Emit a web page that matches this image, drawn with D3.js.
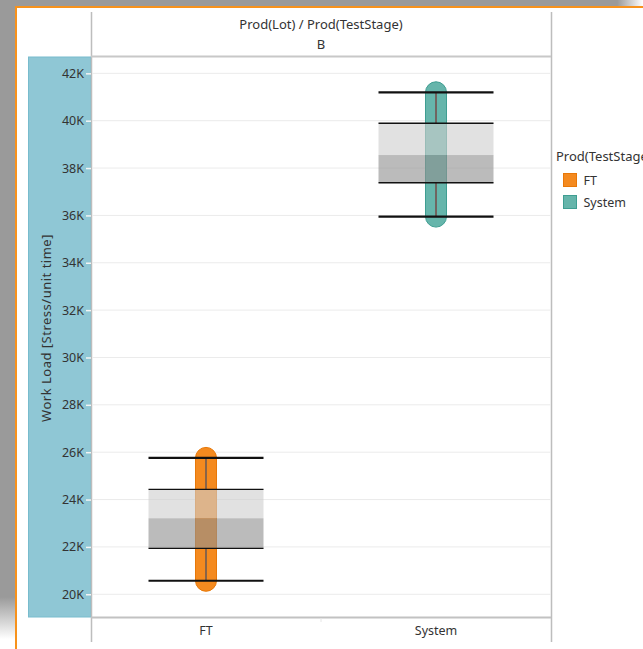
<!DOCTYPE html>
<html>
<head>
<meta charset="utf-8">
<script src="https://cdn.jsdelivr.net/npm/d3@7"></script>
<style>
  body { margin: 0; background: #fff; }
  text { font-family: "Noto Sans", "Open Sans", sans-serif; fill: #333; }
</style>
</head>
<body>
<div id="chart"></div>
<script>
// box plot values per test stage
const stages = ["FT", "System"];
const whiskLow = [20570, 35950];
const q1 = [21940, 37380];
const median = [23210, 38550];
const q3 = [24430, 39890];
const whiskHigh = [25760, 41200];

const yTicks = [20000, 22000, 24000, 26000, 28000, 30000, 32000, 34000, 36000, 38000, 40000, 42000];

const stageFill = ["#f48a1f", "#66b5ab"];
const stageStroke = ["#e87808", "#3f9e92"];
const stemColor = ["#1d3f75", "#7a1414"];

const width = 643, height = 649;
const plotLeft = 91, plotRight = 551, plotTop = 57, plotBottom = 617;

let svg = d3.select("#chart").append("svg")
  .attr("width", width).attr("height", height);

// window frame: grey shadow + orange border
let defs = svg.append("defs");
let gTop = defs.append("linearGradient").attr("id", "fadeRight");
gTop.append("stop").attr("offset", "0.96").attr("stop-color", "#9a9a9a");
gTop.append("stop").attr("offset", "1").attr("stop-color", "#ffffff");
let gLeft = defs.append("linearGradient").attr("id", "fadeDown")
  .attr("x1", 0).attr("x2", 0).attr("y1", 0).attr("y2", 1);
gLeft.append("stop").attr("offset", "0.92").attr("stop-color", "#9a9a9a");
gLeft.append("stop").attr("offset", "0.985").attr("stop-color", "#ffffff");

svg.append("rect").attr("x", 0).attr("y", 0).attr("width", width).attr("height", 7)
  .attr("fill", "url(#fadeRight)");
svg.append("rect").attr("x", 0).attr("y", 0).attr("width", 15).attr("height", height)
  .attr("fill", "url(#fadeDown)");
svg.append("line").attr("x1", 15).attr("x2", width).attr("y1", 7).attr("y2", 7)
  .attr("stroke", "#f7921c").attr("stroke-width", 2);
svg.append("line").attr("x1", 16).attr("x2", 16).attr("y1", 6).attr("y2", height)
  .attr("stroke", "#f7921c").attr("stroke-width", 2);

// scales
let x = d3.scaleBand().domain(stages).range([plotLeft, plotRight]);
let y = d3.scaleLinear().domain([19040, 42690]).range([plotBottom, plotTop]);

// blue y-axis band
svg.append("rect")
  .attr("x", 28.5).attr("y", plotTop).attr("width", plotLeft - 28.5).attr("height", plotBottom - plotTop)
  .attr("fill", "#8fc7d5").attr("stroke", "#78bccd");

// panel lines
svg.append("g").selectAll("line")
  .data([plotLeft, plotRight])
  .join("line")
  .attr("x1", d => d + 0.5).attr("x2", d => d + 0.5)
  .attr("y1", 12).attr("y2", 642)
  .attr("stroke", "#bdbdbd").attr("stroke-width", 1.5);
svg.append("line").attr("x1", plotLeft).attr("x2", plotRight).attr("y1", 56.5).attr("y2", 56.5)
  .attr("stroke", "#c8c8c8").attr("stroke-width", 2);
svg.append("line").attr("x1", plotLeft).attr("x2", plotRight).attr("y1", 617.5).attr("y2", 617.5)
  .attr("stroke", "#c2c2c2").attr("stroke-width", 2);
svg.append("line").attr("x1", x("System")).attr("x2", x("System")).attr("y1", 618).attr("y2", 622)
  .attr("stroke", "#e6e6e6");

// header
svg.append("text").attr("x", (plotLeft + plotRight) / 2).attr("y", 29)
  .attr("text-anchor", "middle").attr("font-size", 13)
  .text("Prod(Lot) / Prod(TestStage)");
svg.append("text").attr("x", (plotLeft + plotRight) / 2).attr("y", 49)
  .attr("text-anchor", "middle").attr("font-size", 13)
  .text("B");

// gridlines
svg.append("g").selectAll("line")
  .data(yTicks)
  .join("line")
  .attr("x1", plotLeft + 1).attr("x2", plotRight)
  .attr("y1", d => y(d)).attr("y2", d => y(d))
  .attr("stroke", "#ebebeb");

// y axis
let yAxis = d3.axisLeft(y).tickValues(yTicks).tickSize(5).tickPadding(2)
  .tickFormat(d => d / 1000 + "K");
let gy = svg.append("g").attr("transform", `translate(${plotLeft},0)`).call(yAxis);
gy.select(".domain").remove();
gy.attr("font-family", null).attr("font-size", null);
gy.selectAll(".tick line").attr("stroke", "#f4f4f4").attr("stroke-width", 1.5);
gy.selectAll(".tick text").attr("font-size", 12.5).attr("fill", "#333");

svg.append("text")
  .attr("transform", "translate(46,328) rotate(-90)")
  .attr("text-anchor", "middle").attr("dominant-baseline", "central")
  .attr("font-size", 13).attr("letter-spacing", 0.5)
  .text("Work Load [Stress/unit time]");

// x axis
let xAxis = d3.axisBottom(x).tickSize(0).tickPadding(9);
let gx = svg.append("g").attr("transform", `translate(0,${plotBottom})`).call(xAxis);
gx.select(".domain").remove();
gx.attr("font-family", null).attr("font-size", null);
gx.selectAll(".tick text").attr("font-size", 12.5).attr("fill", "#333");

// boxes
let bw = x.bandwidth();
let capW = 21;
let boxW = bw * 0.5;
let cx = i => x(stages[i]) + bw / 2;
let idx = d3.range(stages.length);

let marks = svg.append("g");

// range capsule
marks.selectAll(".capsule")
  .data(idx)
  .join("rect")
  .attr("class", "capsule")
  .attr("x", i => cx(i) - capW / 2)
  .attr("y", i => y(whiskHigh[i]) - capW / 2)
  .attr("width", capW)
  .attr("height", i => y(whiskLow[i]) - y(whiskHigh[i]) + capW)
  .attr("rx", capW / 2)
  .attr("fill", i => stageFill[i])
  .attr("stroke", i => stageStroke[i]);

// stems
marks.append("g").selectAll("line")
  .data(idx)
  .join("line")
  .attr("x1", cx).attr("x2", cx)
  .attr("y1", i => y(whiskHigh[i])).attr("y2", i => y(q3[i]))
  .attr("stroke", i => stemColor[i]);
marks.append("g").selectAll("line")
  .data(idx)
  .join("line")
  .attr("x1", cx).attr("x2", cx)
  .attr("y1", i => y(q1[i])).attr("y2", i => y(whiskLow[i]))
  .attr("stroke", i => stemColor[i]);

// box halves
marks.append("g").selectAll("rect")
  .data(idx)
  .join("rect")
  .attr("x", i => cx(i) - boxW / 2)
  .attr("y", i => y(q3[i]))
  .attr("width", boxW)
  .attr("height", i => y(median[i]) - y(q3[i]))
  .attr("fill", "#cfcfcf").attr("fill-opacity", 0.62);
marks.append("g").selectAll("rect")
  .data(idx)
  .join("rect")
  .attr("x", i => cx(i) - boxW / 2)
  .attr("y", i => y(median[i]))
  .attr("width", boxW)
  .attr("height", i => y(q1[i]) - y(median[i]))
  .attr("fill", "#919191").attr("fill-opacity", 0.62);

// box edges and whisker caps
[q3, q1].forEach(arr => {
  marks.append("g").selectAll("line")
    .data(idx)
    .join("line")
    .attr("x1", i => cx(i) - boxW / 2).attr("x2", i => cx(i) + boxW / 2)
    .attr("y1", i => y(arr[i])).attr("y2", i => y(arr[i]))
    .attr("stroke", "#111").attr("stroke-width", 1.4);
});
[whiskHigh, whiskLow].forEach(arr => {
  marks.append("g").selectAll("line")
    .data(idx)
    .join("line")
    .attr("x1", i => cx(i) - boxW / 2).attr("x2", i => cx(i) + boxW / 2)
    .attr("y1", i => y(arr[i])).attr("y2", i => y(arr[i]))
    .attr("stroke", "#111").attr("stroke-width", 2.2);
});

// legend
let legend = svg.append("g");
legend.append("text").attr("x", 556).attr("y", 161).attr("font-size", 13)
  .text("Prod(TestStage)");
let items = legend.selectAll(".item")
  .data(idx)
  .join("g")
  .attr("transform", i => `translate(563.5,${173.5 + i * 22})`);
items.append("rect").attr("width", 13).attr("height", 13)
  .attr("fill", i => stageFill[i]).attr("stroke", i => stageStroke[i]);
items.append("text").attr("x", 20).attr("y", 11).attr("font-size", 12.5)
  .text(i => stages[i]);
</script>
</body>
</html>
